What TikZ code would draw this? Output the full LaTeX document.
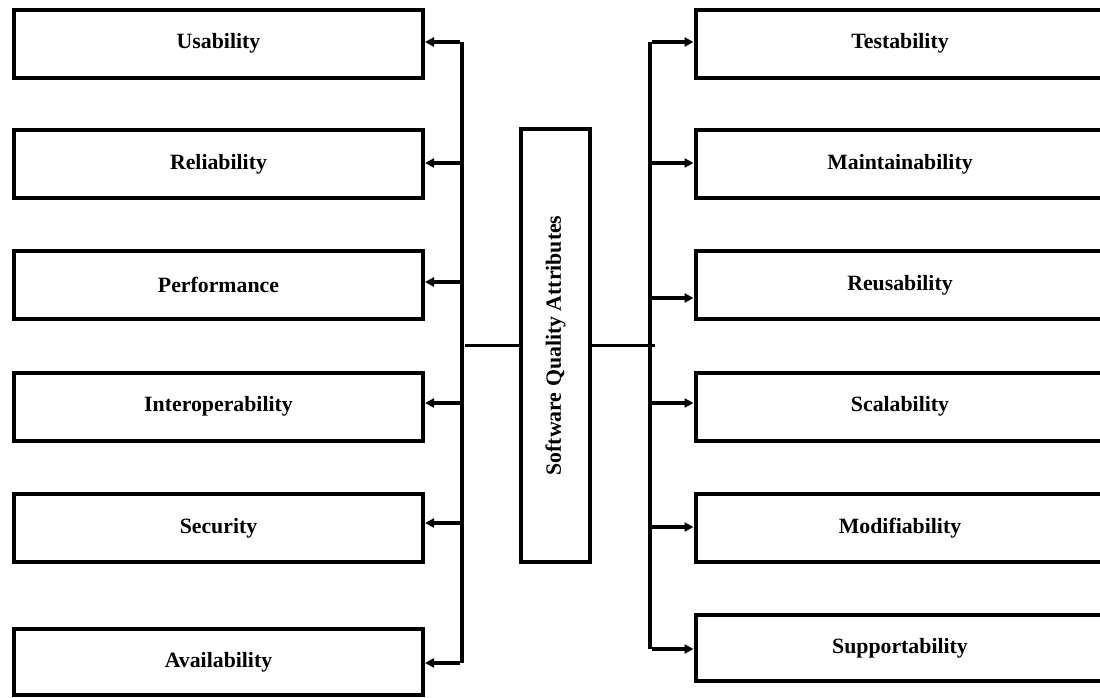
\documentclass[tikz,border=0pt]{standalone}
\usepackage{fontspec}
\setmainfont{Liberation Serif}
\usetikzlibrary{arrows.meta}
\begin{document}
\begin{tikzpicture}[x=1pt,y=-1pt,
  labelfont/.style={font=\fontsize{21.8}{26}\selectfont\bfseries},
  attr/.style={draw, line width=4pt, minimum width=409pt, minimum height=68pt,
    inner sep=0pt, labelfont},
  hub/.style={draw, line width=4pt, minimum width=69pt, minimum height=433pt, inner sep=0pt},
  hubtext/.style={rotate=90, inner sep=0pt, labelfont},
  link/.style={line width=3.5pt},
  feed/.style={line width=3.5pt, -{Triangle[length=9pt,width=9pt]}},
]
\useasboundingbox (0,0) rectangle (1100,697);
\clip (0,0) rectangle (1100,697);

% central box with its vertical title
\node[hub] (sqa) at (555.5,345.5) {};
\node[hubtext] (sqalabel) at (sqa.center) {Software Quality Attributes};

% left column
\node[attr] (usab)  at (218.5,43.5)  {Usability};
\node[attr] (relia) at (218.5,164)   {Reliability};
\node[attr] (perf)  at (218.5,285)   {Performance};
\node[attr] (inter) at (218.5,406.5) {Interoperability};
\node[attr] (secur) at (218.5,528)   {Security};
\node[attr, minimum height=66pt] (avail) at (218.5,662) {Availability};

% right column
\node[attr] (test)  at (900,43.5)  {Testability};
\node[attr] (maint) at (900,164)   {Maintainability};
\node[attr] (reuse) at (900,285)   {Reusability};
\node[attr] (scale) at (900,406.5) {Scalability};
\node[attr] (modif) at (900,528)   {Modifiability};
\node[attr, minimum height=66pt] (supp) at (900,648) {Supportability};

% bus positions
\coordinate (lbus) at (462,345);
\coordinate (rbus) at (650,345);
\coordinate (ljoin) at (465,345);
\coordinate (rjoin) at (655,345);

% hub to buses
\draw[line width=3pt] (sqa.west |- ljoin) -- (ljoin);
\draw[line width=3pt] (sqa.east |- rjoin) -- (rjoin);

% vertical buses
\draw[link] ([yshift=1.5pt]lbus |- usab.east) -- ([yshift=-1pt]lbus |- avail.east);
\draw[link] ([yshift=1.5pt]rbus |- test.west) -- ([yshift=-1pt]rbus |- supp.west);

% branches to the attribute boxes
\foreach \n/\d in {usab/1.5, relia/1, perf/3, inter/3.5, secur/5, avail/-1}
  \draw[feed] ([xshift=-1.75pt,yshift=\d pt]lbus |- \n.east) -- ([yshift=\d pt]\n.east);
\foreach \n/\d in {test/1.5, maint/1, reuse/-13, scale/3.5, modif/1, supp/-1}
  \draw[feed] ([xshift=1.75pt,yshift=\d pt]rbus |- \n.west) -- ([yshift=\d pt]\n.west);
\end{tikzpicture}
\end{document}
